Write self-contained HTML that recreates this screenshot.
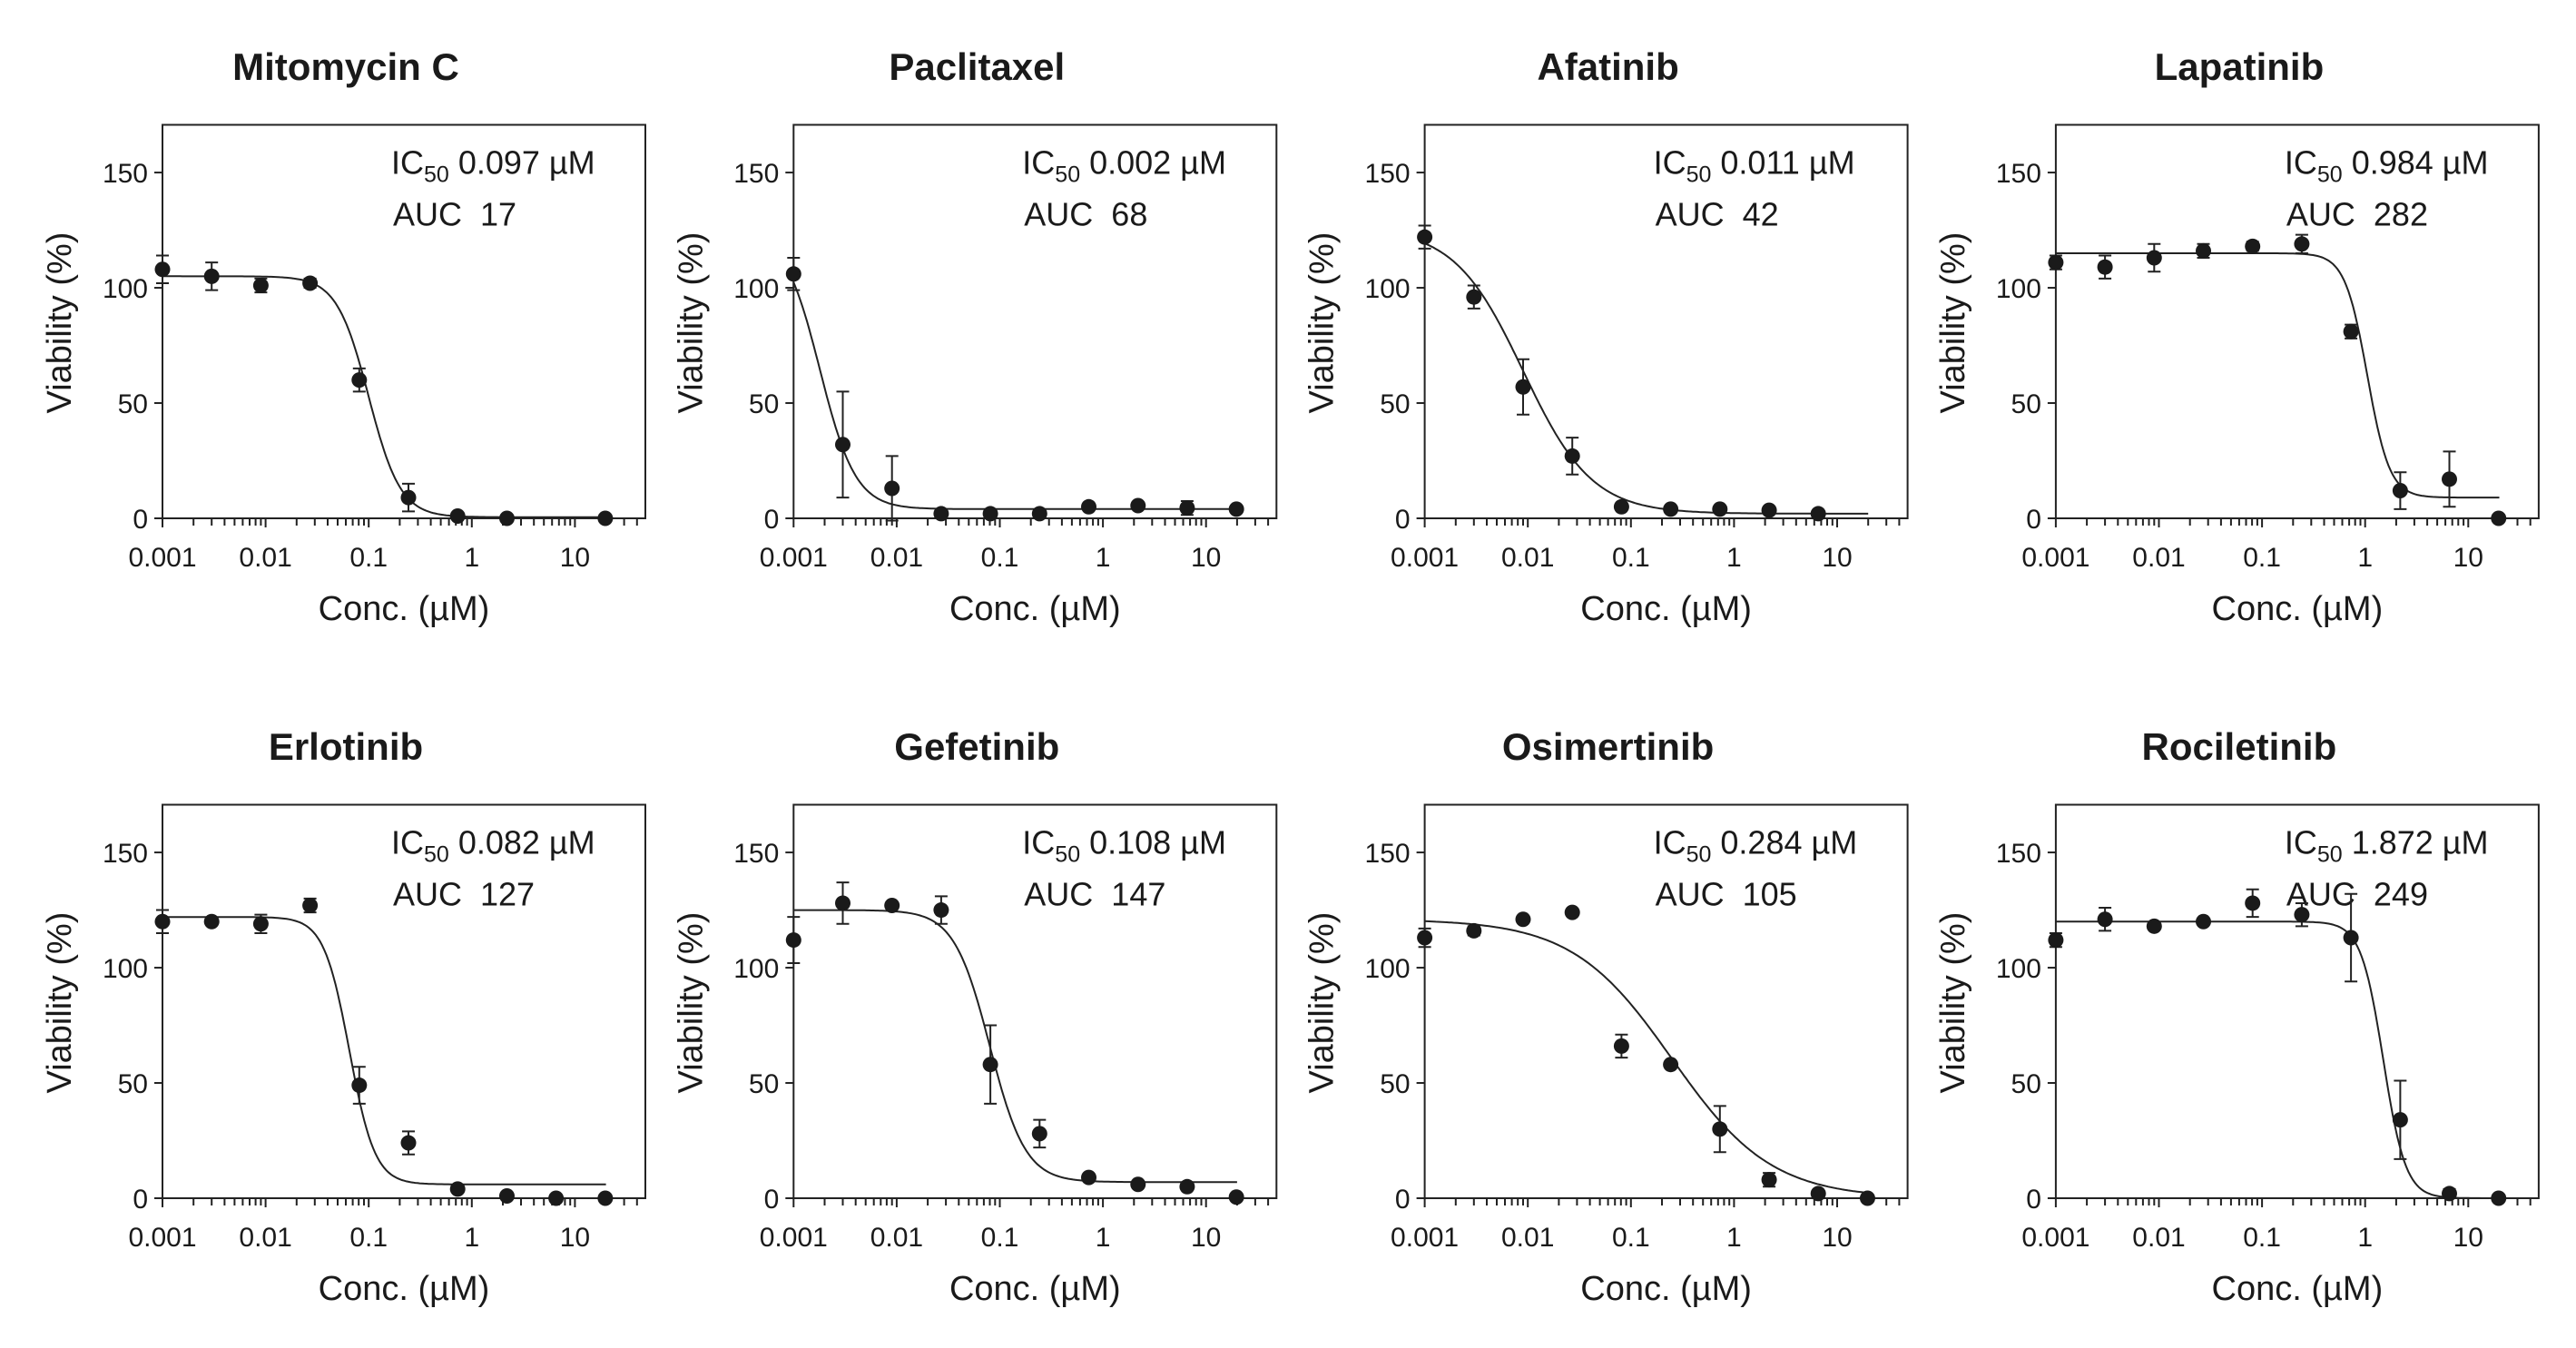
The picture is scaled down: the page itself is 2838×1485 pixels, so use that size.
<!DOCTYPE html>
<html><head><meta charset="utf-8"><style>
html,body{margin:0;padding:0;background:#fff}
svg{display:block}
text{font-family:"Liberation Sans",sans-serif;fill:#1a1a1a;white-space:pre}
</style></head><body>
<svg id="fig" width="2838" height="1485" viewBox="0 0 2838 1485" xmlns="http://www.w3.org/2000/svg"></svg>
<script>
const drugs = ["Mitomycin C","Paclitaxel","Afatinib","Lapatinib","Erlotinib","Gefetinib","Osimertinib","Rociletinib"];
const ic50Labels = ["0.097","0.002","0.011","0.984","0.082","0.108","0.284","1.872"];
const aucLabels = ["17","68","42","282","127","147","105","249"];
const conc = [0.001,0.003,0.009,0.027,0.081,0.243,0.729,2.19,6.56,19.7];
const vMito = [108,105,101,102,60,9,1,0,null,0];
const vPacl = [106,32,13,2,2,2,5,5.5,4.5,4];
const vAfat = [122,96,57,27,5,4,4,3.5,2,null];
const vLapa = [111,109,113,116,118,119,81,12,17,0];
const vErlo = [120,120,119,127,49,24,4,1,0,0];
const vGefe = [112,128,127,125,58,28,9,6,5,0.5];
const vOsim = [113,116,121,124,66,58,30,8,2,0];
const vRoci = [112,121,118,120,128,123,113,34,2,0];
const values = [vMito,vPacl,vAfat,vLapa,vErlo,vGefe,vOsim,vRoci];
const eMito = [6,6,3,2,5,6,0,0,0,0];
const ePacl = [7,23,14,0,0,0,0,0,3,0];
const eAfat = [5,5,12,8,0,0,0,0,0,0];
const eLapa = [3,5,6,3,2,4,3,8,12,0];
const eErlo = [5,0,4,3,8,5,0,0,0,0];
const eGefe = [10,9,0,6,17,6,0,0,0,0];
const eOsim = [4,2,0,0,5,0,10,3,0,0];
const eRoci = [3,5,0,0,6,5,19,17,2,0];
const errors = [eMito,ePacl,eAfat,eLapa,eErlo,eGefe,eOsim,eRoci];
const fitTop = [105,125,126,115,122,125,121,120];
const fitBottom = [0.5,4,2,9,6,7,0,0];
const fitEC = [0.1,0.0018,0.009,1.05,0.065,0.08,0.25,1.5];
const fitHill = [2.8,2.5,1.3,4,3.5,2.5,0.9,4];
const yTicks = [0,50,100,150];
const xTickLabels = ["0.001","0.01","0.1","1","10"];
const xTickValues = [0.001,0.01,0.1,1,10];

const NS="http://www.w3.org/2000/svg";
const svg=document.getElementById('fig');
function mk(tag,attrs,parent){const e=document.createElementNS(NS,tag);for(const k in attrs)e.setAttribute(k,attrs[k]);(parent||svg).appendChild(e);return e;}

const W=532,H=433.5,YMAX=170.7,XMIN=0.001,DEC=113.6;
drugs.forEach((name,i)=>{
  const c=i%4,r=Math.floor(i/4);
  const L=179+695.3*c, T=137.5+749*r, B=T+H;
  const xs=v=>L+Math.log10(v/XMIN)*DEC;
  const ys=v=>B-v/YMAX*H;
  const g=mk('g',{});
  
  
  const t=mk('text',{x:L+202,y:88+749*r,'text-anchor':'middle','font-size':42,'font-weight':'bold'},g);
  t.textContent=name;
  
  
  const box=mk('rect',{x:L,y:T,width:W,height:H,fill:'none',stroke:'#222','stroke-width':2},g);
  
  
  yTicks.forEach(v=>{
    mk('line',{x1:L-9,x2:L,y1:ys(v),y2:ys(v),stroke:'#222','stroke-width':2},g);
    const tl=mk('text',{x:L-16,y:ys(v)+11,'text-anchor':'end','font-size':30},g);
    tl.textContent=v;
    
    
  });
  for(let d=-3;d<=1;d++){
    for(let m=1;m<=9;m++){
      const v=m*Math.pow(10,d); const x=xs(v);
      if(x>L+W+0.5)continue;
      mk('line',{x1:x,x2:x,y1:B,y2:B+(m===1?10:8),stroke:'#222','stroke-width':2},g);
    }
  }
  xTickValues.forEach((v,k)=>{
    const tl=mk('text',{x:xs(v),y:B+53,'text-anchor':'middle','font-size':30},g);
    tl.textContent=xTickLabels[k];
    
    
  });
  const xl=mk('text',{x:L+266,y:B+112,'text-anchor':'middle','font-size':38},g);
  xl.textContent='Conc. (µM)';
  
  
  const yl=mk('text',{x:0,y:0,'text-anchor':'middle','font-size':38,transform:`translate(${L-101},${T+218}) rotate(-90)`},g);
  yl.textContent='Viability (%)';
  
  
  const a1=mk('text',{x:L+252,y:T+54,'font-size':36},g);
  
  
  const s1=mk('tspan',{},a1); s1.textContent='IC';
  const s2=mk('tspan',{'font-size':25,dy:9},a1); s2.textContent='50';
  const s3=mk('tspan',{dy:-9},a1); s3.textContent=' '+ic50Labels[i]+' µM';
  const a2=mk('text',{x:L+254,y:T+111,'font-size':36},g);
  a2.textContent='AUC  '+aucLabels[i];
  
  
  let dstr='';
  for(let k=0;k<=200;k++){
    const lx=-3+k*(Math.log10(20)+3)/200; const x=Math.pow(10,lx);
    const y=fitBottom[i]+(fitTop[i]-fitBottom[i])/(1+Math.pow(x/fitEC[i],fitHill[i]));
    dstr+=(k?'L':'M')+xs(x).toFixed(1)+','+ys(y).toFixed(1);
  }
  const cv=mk('path',{d:dstr,fill:'none',stroke:'#222','stroke-width':2},g);
  
  
  values[i].forEach((v,k)=>{
    if(v===null)return;
    const x=xs(conc[k]),y=ys(v),e=errors[i][k];
    if(e>0){
      const eb=mk('path',{d:`M${x},${ys(v+e)}V${ys(v-e)}M${x-7},${ys(v+e)}h14M${x-7},${ys(v-e)}h14`,stroke:'#222','stroke-width':2,fill:'none'},g);
      
      
    }
    const p=mk('circle',{cx:x,cy:y,r:8.5,fill:'#1a1a1a'},g);
    
    
  });
});
</script>
</body></html>
